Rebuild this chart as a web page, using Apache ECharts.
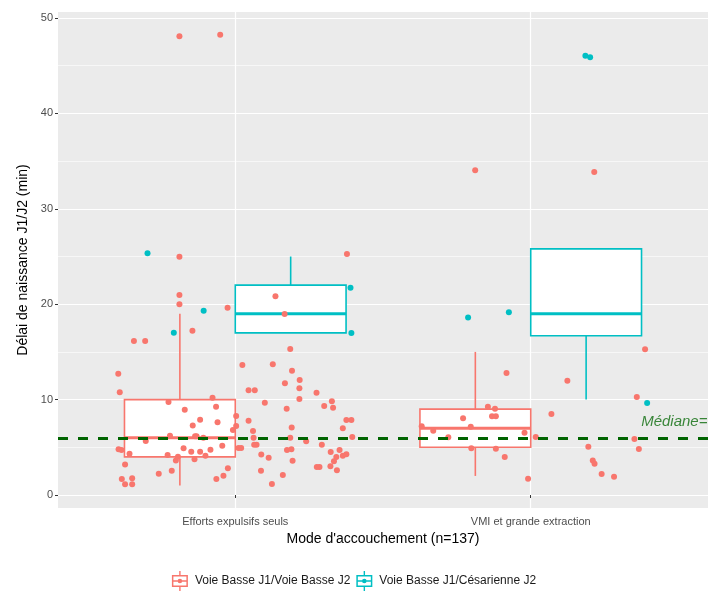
<!DOCTYPE html>
<html>
<head>
<meta charset="utf-8">
<script src="https://cdn.jsdelivr.net/npm/echarts@6/dist/echarts.min.js"></script>
<style>
  html, body { margin: 0; padding: 0; background: #fff; }
  #chart { width: 708px; height: 592px; }
</style>
</head>
<body>
<div id="chart"></div>
<script>
// categories and group names
var categories = ['Efforts expulsifs seuls', 'VMI et grande extraction'];
var groupNames = ['Voie Basse J1/Voie Basse J2', 'Voie Basse J1/Césarienne J2'];
var groupColors = ['#F8766D', '#00BFC4'];

// box stats: [x, lower whisker, Q1, median, Q3, upper whisker]
var boxVBVB = [[0.8125, 1, 4, 6, 10, 19], [1.8125, 2, 5, 7, 9, 15]];
var boxVBCes = [[1.1875, 17, 17, 19, 22, 25], [2.1875, 10, 16.7, 19, 25.8, 25.8]];

// jittered points, x on the category scale (1 = first category)
var vbvbX = [0.811, 0.811, 0.974, 1.136, 1.167, 0.855, 0.657, 0.695, 1.186, 0.604,
  1.024, 1.127, 1.192, 0.609, 1.045, 1.066, 1.168, 1.218, 1.217, 1.217,
  1.275, 1.327, 1.301, 1.331, 0.774, 0.923, 0.935, 0.829, 1.100, 1.174,
  0.881, 0.856, 0.940, 1.003, 1.003, 0.992, 1.045, 1.060, 1.062, 1.064,
  1.072, 1.191, 1.186, 1.240, 1.293, 1.364, 1.376, 1.393, 1.396, 0.779,
  0.864, 0.869, 0.892, 0.697, 0.605, 0.615, 0.642, 0.627, 0.616, 0.627,
  0.651, 0.651, 0.741, 0.785, 0.771, 0.799, 0.806, 0.825, 0.851, 0.862,
  0.881, 0.899, 0.916, 0.956, 0.936, 0.960, 0.975, 1.011, 1.020, 1.088,
  1.113, 1.087, 1.124, 1.161, 1.175, 1.190, 1.194, 1.276, 1.285, 1.323,
  1.353, 1.342, 1.334, 1.364, 1.376, 1.322, 1.344, 0.811, 0.949, 0.811, 1.378,
  1.918, 2.124, 2.387, 2.359, 1.855, 1.879, 1.869, 1.882, 1.771, 2.070,
  1.631, 1.670, 1.797, 1.721, 1.979, 2.017, 2.351, 2.366, 1.799, 1.882,
  1.912, 1.991, 2.195, 2.210, 2.216, 2.240, 2.282, 1.812, 2.215];
var vbvbY = [20.96, 19.99, 19.64, 20.83, 18.97, 17.22, 16.14, 16.14, 15.30, 12.72,
  13.63, 13.70, 13.03, 10.77, 10.97, 10.97, 11.71, 12.05, 11.18, 10.06,
  10.73, 9.82, 9.33, 9.15, 9.75, 10.2, 9.26, 8.94, 9.68, 9.05,
  7.89, 7.30, 7.62, 8.28, 7.23, 6.81, 7.79, 6.71, 6.01, 5.28,
  5.28, 7.09, 6.01, 5.63, 5.28, 6.99, 7.86, 7.86, 6.08, 6.22,
  6.15, 6.15, 6.01, 5.66, 4.79, 4.72, 4.33, 3.21, 1.68, 1.12,
  1.75, 1.12, 2.24, 2.55, 4.19, 3.63, 4.02, 4.89, 4.54, 3.74,
  4.54, 4.12, 4.75, 5.17, 1.68, 2.03, 2.80, 4.93, 4.93, 4.26,
  3.91, 2.55, 1.15, 2.10, 4.72, 4.79, 3.60, 2.94, 2.94, 4.51,
  4.72, 3.98, 3.53, 4.12, 4.27, 3.01, 2.59, 48.08, 48.25, 24.98, 25.26,
  12.79, 11.99, 15.27, 10.27, 9.26, 9.05, 8.25, 8.25, 8.04, 8.49,
  7.20, 6.74, 7.16, 6.05, 6.53, 6.08, 5.87, 4.82, 4.89, 4.85,
  3.98, 1.71, 5.07, 3.63, 3.28, 2.20, 1.92, 34.04, 33.86];
var vbcesX = [0.703, 0.893, 0.792, 1.390, 1.393, 1.788, 1.926, 2.394, 2.185, 2.201];
var vbcesY = [25.34, 19.32, 17.01, 21.73, 16.98, 18.62, 19.15, 9.64, 46.05, 45.88];

// axis ticks
var yTicks = [0, 10, 20, 30, 40, 50];
var yMinorTicks = [5, 15, 25, 35, 45];
var xTicks = [1, 2];
var refMedian = 6;
var refLabelPos = [2.5, 7.7];

function pairs(xs, ys) {
  return xs.map(function (x, i) { return [x, ys[i]]; });
}

var boxHalf = 0.1875;
function renderBox(params, api) {
  var xc = api.value(0);
  var left = api.coord([xc - boxHalf, api.value(4)])[0];
  var right = api.coord([xc + boxHalf, api.value(4)])[0];
  var mid = api.coord([xc, api.value(4)])[0];
  var yLo = api.coord([xc, api.value(1)])[1];
  var yQ1 = api.coord([xc, api.value(2)])[1];
  var yMed = api.coord([xc, api.value(3)])[1];
  var yQ3 = api.coord([xc, api.value(4)])[1];
  var yHi = api.coord([xc, api.value(5)])[1];
  var color = api.visual('color');
  var st = { stroke: color, lineWidth: 1.6, fill: null };
  return {
    type: 'group',
    children: [
      { type: 'line', shape: { x1: mid, y1: yHi, x2: mid, y2: yQ3 }, style: st },
      { type: 'line', shape: { x1: mid, y1: yQ1, x2: mid, y2: yLo }, style: st },
      { type: 'rect', shape: { x: left, y: yQ3, width: right - left, height: yQ1 - yQ3 },
        style: { stroke: color, lineWidth: 1.6, fill: '#fff' } },
      { type: 'line', shape: { x1: left, y1: yMed, x2: right, y2: yMed },
        style: { stroke: color, lineWidth: 3, fill: null } }
    ]
  };
}

// boxplot key glyph for the legend
var keyIcon = 'path://M2 4L18 4L18 16L2 16Z M3.5 5.5L3.5 14.5L16.5 14.5L16.5 5.5Z ' +
  'M3.5 9.2L16.5 9.2L16.5 10.8L3.5 10.8Z M9.3 0L10.7 0L10.7 4L9.3 4Z M9.3 16L10.7 16L10.7 20L9.3 20Z ' +
  'M12.3 10A2.3 2.3 0 1 1 7.7 10A2.3 2.3 0 1 1 12.3 10Z';

var font = 'Liberation Sans, Arial, sans-serif';
var myChart = echarts.init(document.getElementById('chart'));
myChart.setOption({
  animation: false,
  textStyle: { fontFamily: font },
  grid: {
    left: 58, right: -3, top: 12, bottom: 84,
    show: true, backgroundColor: '#EBEBEB', borderWidth: 0
  },
  legend: {
    data: groupNames.map(function (n) { return { name: n, icon: keyIcon }; }),
    icon: keyIcon,
    bottom: -4,
    left: 'center',
    itemWidth: 20,
    itemHeight: 20,
    itemGap: 6,
    textStyle: { fontSize: 12, color: '#1A1A1A', fontFamily: font }
  },
  xAxis: {
    type: 'value', min: 0.4, max: 2.6,
    name: "Mode d'accouchement (n=137)",
    nameLocation: 'middle', nameGap: 24,
    nameTextStyle: { fontSize: 14, color: '#000', fontFamily: font },
    axisLine: { show: false },
    axisTick: { show: true, length: 3, lineStyle: { color: '#333' }, customValues: xTicks },
    axisLabel: {
      customValues: xTicks, color: '#4D4D4D', fontSize: 11, margin: 8,
      formatter: function (v) { return categories[Math.round(v) - 1] || ''; }
    },
    splitLine: { show: true, lineStyle: { color: '#fff', width: 1.2 } }
  },
  yAxis: [{
    type: 'value', min: -1.36, max: 50.63,
    name: 'Délai de naissance J1/J2 (min)',
    nameLocation: 'middle', nameGap: 28,
    nameTextStyle: { fontSize: 14, color: '#000', fontFamily: font },
    axisLine: { show: false },
    axisTick: { show: true, length: 3, lineStyle: { color: '#333' }, customValues: yTicks },
    axisLabel: { customValues: yTicks, color: '#4D4D4D', fontSize: 11, margin: 5 },
    splitLine: { show: true, lineStyle: { color: '#fff', width: 1.2 } }
  }, {
    type: 'value', min: -1.36, max: 50.63, position: 'left',
    axisLine: { show: false },
    axisTick: { show: false, customValues: yMinorTicks },
    axisLabel: { show: false, customValues: yMinorTicks },
    splitLine: { show: true, lineStyle: { color: '#fff', width: 0.6 } }
  }],
  series: [
    {
      name: groupNames[0], type: 'custom', renderItem: renderBox, z: 2,
      itemStyle: { color: groupColors[0] },
      encode: { x: 0, y: [1, 2, 3, 4, 5] },
      data: boxVBVB
    },
    {
      name: groupNames[1], type: 'custom', renderItem: renderBox, z: 2,
      itemStyle: { color: groupColors[1] },
      encode: { x: 0, y: [1, 2, 3, 4, 5] },
      data: boxVBCes
    },
    {
      name: groupNames[0], type: 'scatter', z: 3, symbolSize: 6,
      itemStyle: { color: groupColors[0], opacity: 1 },
      data: pairs(vbvbX, vbvbY)
    },
    {
      name: groupNames[1], type: 'scatter', z: 3, symbolSize: 6,
      itemStyle: { color: groupColors[1], opacity: 1 },
      data: pairs(vbcesX, vbcesY)
    },
    {
      name: 'ref', type: 'scatter', z: 5, symbolSize: 0, silent: true,
      data: [refLabelPos],
      label: {
        show: true, position: 'inside', formatter: 'Médiane=' + refMedian,
        color: '#0B6B0B', fontStyle: 'italic', fontSize: 15, fontFamily: font
      },
      markLine: {
        silent: true, symbol: 'none', z: 5,
        label: { show: false },
        lineStyle: { color: '#006400', width: 3, type: [10, 10], opacity: 1 },
        data: [{ yAxis: refMedian }]
      }
    }
  ]
});
</script>
</body>
</html>
